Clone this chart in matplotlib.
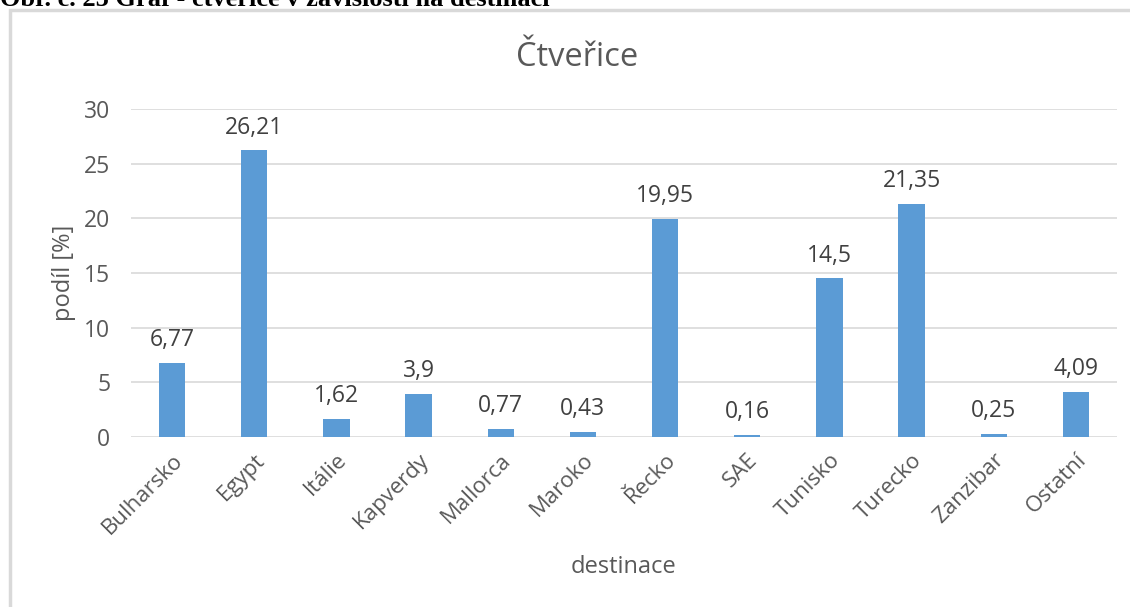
import matplotlib.pyplot as plt
from matplotlib.patches import Rectangle

destinace = ["Bulharsko", "Egypt", "Itálie", "Kapverdy", "Mallorca", "Maroko",
             "Řecko", "SAE", "Tunisko", "Turecko", "Zanzibar", "Ostatní"]
podil = [6.77, 26.21, 1.62, 3.9, 0.77, 0.43, 19.95, 0.16, 14.5, 21.35, 0.25, 4.09]
yticks = [0, 5, 10, 15, 20, 25, 30]

plt.rcParams['font.family'] = ['Open Sans', 'DejaVu Sans']
text_col = "#595959"

fig = plt.figure(figsize=(11.3, 6.07), dpi=100)
W, H = 1130, 607

# caption above the chart, partly cut off at the top edge
fig.text(0.0, 1 - 6 / H, "Obr. č. 25 Graf - čtveřice v závislosti na destinaci",
         family="Liberation Serif", weight="bold", fontsize=19, color="black",
         ha="left", va="baseline")

# chart area frame
fig.patches.append(Rectangle((10 / W, -0.05), 1.2, 1 - 10 / H + 0.05,
                             transform=fig.transFigure, fill=False,
                             edgecolor="#d9d9d9", linewidth=2.5))

# chart title, centred on the chart area rather than the plot area
fig.text(577 / W, 1 - 57 / H, "Čtveřice", fontsize=23.5, color=text_col,
         ha="center", va="center")

ax = fig.add_axes([131 / W, 1 - 437 / H, (1117 - 131) / W, (437 - 109) / H])
x = range(len(destinace))
bars = ax.bar(x, podil, width=0.32, color="#5b9bd5", zorder=3)

for b, v in zip(bars, podil):
    ax.text(b.get_x() + b.get_width() / 2, v + 1.0, f"{v:g}".replace(".", ","),
            ha="center", va="bottom", fontsize=16.5, color="#404040")

ax.set_xlim(-0.5, len(destinace) - 0.5)
ax.set_ylim(0, 30)
ax.set_yticks(yticks)
ax.yaxis.grid(True, color="#d9d9d9", linewidth=1.2, zorder=0)
for s in ax.spines.values():
    s.set_visible(False)
ax.tick_params(length=0, labelsize=16.5, labelcolor=text_col)
ax.tick_params(axis="y", pad=15)
ax.set_xticks(list(x))
ax.set_xticklabels(destinace, rotation=45, ha="right", rotation_mode="anchor",
                   fontsize=16)
ax.tick_params(axis="x", pad=9)

ax.set_xlabel("destinace", fontsize=17, color=text_col, labelpad=12)
ax.set_ylabel("podíl [%]", fontsize=17, color=text_col, labelpad=6)

fig.savefig("out.png", dpi=100, facecolor="white")
